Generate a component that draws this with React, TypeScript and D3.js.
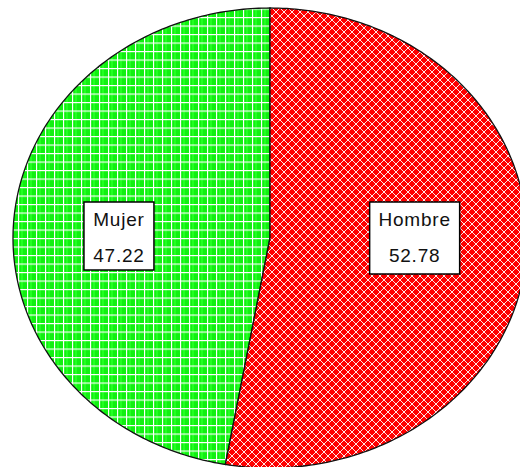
import React from "react";
import * as d3 from "d3";

const categories = ["Mujer", "Hombre"];
const values = [47.22, 52.78];
const valueLabels = ["47.22", "52.78"];

const W = 520;
const H = 467;
const cx = 270;
const cy = 238;
const rx = 257;
const ry = 230;

export default function App() {
  const pie = d3
    .pie<number>()
    .sort(null)
    .startAngle(0)
    .endAngle(-2 * Math.PI)
    .value((d) => d);
  const arcs = pie(values);

  const pt = (a: number, f = 1): [number, number] => [
    cx + rx * f * Math.sin(a),
    cy - ry * f * Math.cos(a),
  ];

  const line = d3.line<[number, number]>();

  const slicePath = (a0: number, a1: number) => {
    const n = 200;
    const pts: [number, number][] = [[cx, cy]];
    for (let i = 0; i <= n; i++) pts.push(pt(a0 + ((a1 - a0) * i) / n));
    return line(pts) + "Z";
  };

  const fills = ["url(#greenPat)", "url(#redPat)"];
  const labelF = [0.59, 0.565];

  return (
    <svg
      width={W}
      height={H}
      style={{ position: "absolute", left: 0, top: 0, background: "#fff" }}
    >
      <defs>
        <pattern id="greenPat" width={9} height={8.5} patternUnits="userSpaceOnUse">
          <rect width={9} height={8.5} fill="#11f011" />
          <rect x={3} width={2} height={8.5} fill="#22ff22" />
          <line x1={0.5} y1={0} x2={0.5} y2={8.5} stroke="#ffffff" strokeWidth={1.3} />
          <line x1={0} y1={0.5} x2={9} y2={0.5} stroke="#ffffff" strokeWidth={1.3} />
        </pattern>
        <pattern id="redPat" width={8} height={8} patternUnits="userSpaceOnUse">
          <rect width={8} height={8} fill="#ff0000" />
          <path d="M0,0 L8,8 M8,0 L0,8 M-4,4 L4,-4 M4,12 L12,4 M-4,4 L4,12 M4,-4 L12,4" stroke="#ffe6e6" strokeWidth={1} />
        </pattern>
      </defs>
      {arcs.map((a, i) => (
        <path
          key={categories[i]}
          d={slicePath(a.startAngle, a.endAngle)}
          fill={fills[i]}
          stroke="#111"
          strokeWidth={1.3}
        />
      ))}
      {arcs.map((a, i) => {
        const mid = (a.startAngle + a.endAngle) / 2;
        const [lx] = pt(mid, labelF[i]);
        const boxW = i === 0 ? 70 : 90;
        const boxH = i === 0 ? 68 : 72;
        return (
          <g key={"l" + i} transform={`translate(${lx},${cy})`}>
            <rect
              x={-boxW / 2}
              y={-36}
              width={boxW}
              height={boxH}
              fill="#fff"
              stroke="#000"
              strokeWidth={1.5}
            />
            <text
              y={-12}
              textAnchor="middle"
              fontFamily="Liberation Sans, Arial, sans-serif"
              fontSize={19}
              letterSpacing={0.8}
              fill="#111"
            >
              {categories[i]}
            </text>
            <text
              y={24}
              textAnchor="middle"
              fontFamily="Liberation Sans, Arial, sans-serif"
              fontSize={19}
              letterSpacing={0.8}
              fill="#111"
            >
              {valueLabels[i]}
            </text>
          </g>
        );
      })}
    </svg>
  );
}
